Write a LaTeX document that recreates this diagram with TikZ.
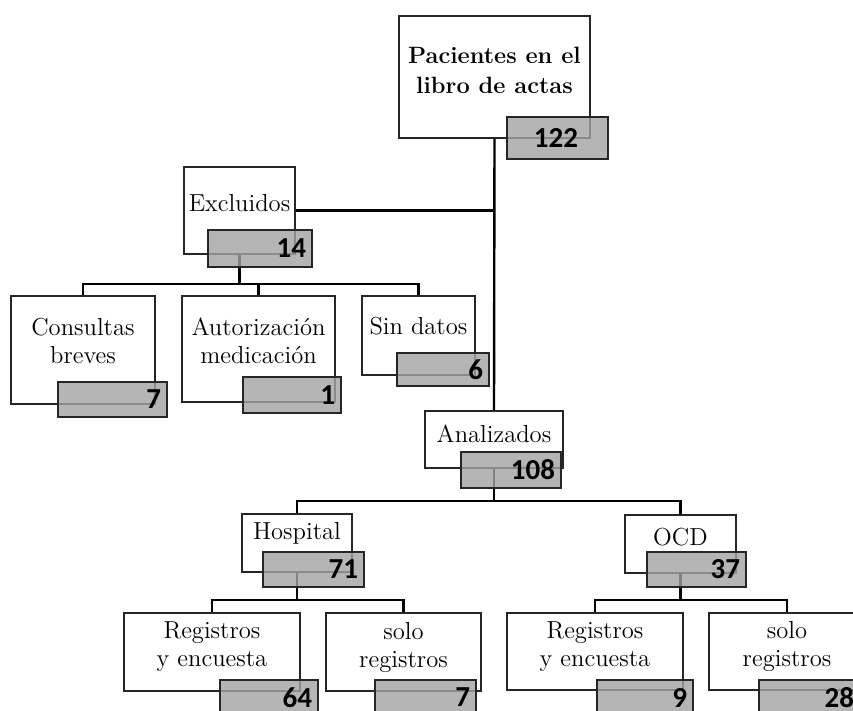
\documentclass[tikz,border=0pt]{standalone}
\usepackage{fontspec}
\usepackage{tikz}
\newfontfamily\numfont{Carlito}

\begin{document}
\begin{tikzpicture}[x=0.5pt, y=-0.5pt, line width=1.2pt,
    every node/.style={font=\fontsize{12.3}{14}\selectfont},
    wbox/.style={draw=black!85, fill=white, line width=1.2pt},
    gbox/.style={draw=black!85, fill=black!36, fill opacity=0.8, text opacity=1, line width=1.2pt},
    lbl/.style={align=center, inner sep=0pt},
    num/.style={anchor=east, inner xsep=3pt, inner ysep=0pt, font=\numfont\bfseries\fontsize{14.5}{16}\selectfont}]
        \path[fill=white, use as bounding box] (0,0) rectangle (853,711);
        \clip (0,0) rectangle (853,711);
        % Pacientes
        \node[wbox, minimum width=95.5pt, minimum height=61pt, label={[lbl, font=\bfseries\fontsize{11.8}{15}\selectfont, yshift=3.5pt]center:{Pacientes en el\\libro de actas}}] (pac) at (494.5,77) {};
        % Excluidos
        \node[wbox, minimum width=55.5pt, minimum height=43.5pt, label={[lbl, yshift=3.5pt]center:Excluidos}] (excl) at (239.5,210.5) {};
        \node[wbox, minimum width=72pt, minimum height=54pt, label={[lbl, yshift=4.5pt]center:{Consultas\\breves}}] (cons) at (83,350) {};
        \node[wbox, minimum width=76.5pt, minimum height=53pt, label={[lbl, yshift=4pt]center:{Autorización\\medicación}}] (auto) at (258.5,349) {};
        \node[wbox, minimum width=56.5pt, minimum height=39.5pt, label={[lbl, yshift=4.5pt]center:Sin datos}] (sind) at (418.5,335.5) {};
        % Analizados
        \node[wbox, minimum width=69pt, minimum height=28.5pt, label={[lbl, yshift=3pt]center:Analizados}] (ana) at (494,439.5) {};
        \node[wbox, minimum width=55pt, minimum height=29pt, label={[lbl, yshift=5pt]center:Hospital}] (hosp) at (297,543) {};
        \node[wbox, minimum width=55.5pt, minimum height=29pt, label={[lbl, yshift=3.5pt]center:OCD}] (ocd) at (680.5,544) {};
        % Registros
        \node[wbox, minimum width=88pt, minimum height=39pt, label={[lbl, yshift=2.5pt]center:{Registros\\y encuesta}}] (hreg) at (212,652) {};
        \node[wbox, minimum width=77.5pt, minimum height=39pt, label={[lbl, yshift=2.5pt]center:{solo\\registros}}] (hsolo) at (403.5,652) {};
        \node[wbox, minimum width=88pt, minimum height=38.5pt, label={[lbl, yshift=2.5pt]center:{Registros\\y encuesta}}] (oreg) at (595,651.5) {};
        \node[wbox, minimum width=78pt, minimum height=38.5pt, label={[lbl, yshift=2.5pt]center:{solo\\registros}}] (osolo) at (787,651.5) {};
        % Connectors
        \draw (pac.south) -- (ana.north);
        \draw (excl.east) -- (excl.east -| pac.south);
        \coordinate (exbus) at (239.5,284);
        \draw (excl.south) -- (exbus);
        \foreach \c in {cons,auto,sind} {
            \draw (exbus) -| (\c.north);
        }
        \coordinate (anbus) at (494,501);
        \draw (ana.south) -- (anbus);
        \foreach \c in {hosp,ocd} {
            \draw (anbus) -| (\c.north);
        }
        \coordinate (hobus) at (297,600);
        \draw (hosp.south) -- (hobus);
        \foreach \c in {hreg,hsolo} {
            \draw (hobus) -| (\c.north);
        }
        \coordinate (ocbus) at (680.5,600);
        \draw (ocd.south) -- (ocbus);
        \foreach \c in {oreg,osolo} {
            \draw (ocbus) -| (\c.north);
        }
        % Counts
        \node[gbox, minimum width=50.5pt, minimum height=21pt, label={[num, xshift=-12pt]east:122}] (pacn) at (557.5,138) {};
        \node[gbox, minimum width=52pt, minimum height=18.5pt, label={[num]east:14}] (excln) at (260,248.5) {};
        \node[gbox, minimum width=54.5pt, minimum height=17.5pt, label={[num]east:7}] (consn) at (112.5,399.5) {};
        \node[gbox, minimum width=49pt, minimum height=18pt, label={[num]east:1}] (auton) at (292,395) {};
        \node[gbox, minimum width=46pt, minimum height=16.5pt, label={[num]east:6}] (sindn) at (443,369.5) {};
        \node[gbox, minimum width=50pt, minimum height=18pt, label={[num]east:108}] (anan) at (511,470) {};
        \node[gbox, minimum width=50.5pt, minimum height=17.5pt, label={[num]east:71}] (hospn) at (313.5,569.5) {};
        \node[gbox, minimum width=49.5pt, minimum height=17.5pt, label={[num]east:37}] (ocdn) at (696.5,569.5) {};
        \node[gbox, minimum width=49pt, minimum height=17.5pt, label={[num]east:64}] (hregn) at (269,697.5) {};
        \node[gbox, minimum width=50.5pt, minimum height=17.5pt, label={[num]east:7}] (hsolon) at (425.5,697.5) {};
        \node[gbox, minimum width=48pt, minimum height=17.5pt, label={[num]east:9}] (oregn) at (645,697.5) {};
        \node[gbox, minimum width=50.5pt, minimum height=17.5pt, label={[num]east:28}] (osolon) at (809.5,697.5) {};
\end{tikzpicture}
\end{document}
